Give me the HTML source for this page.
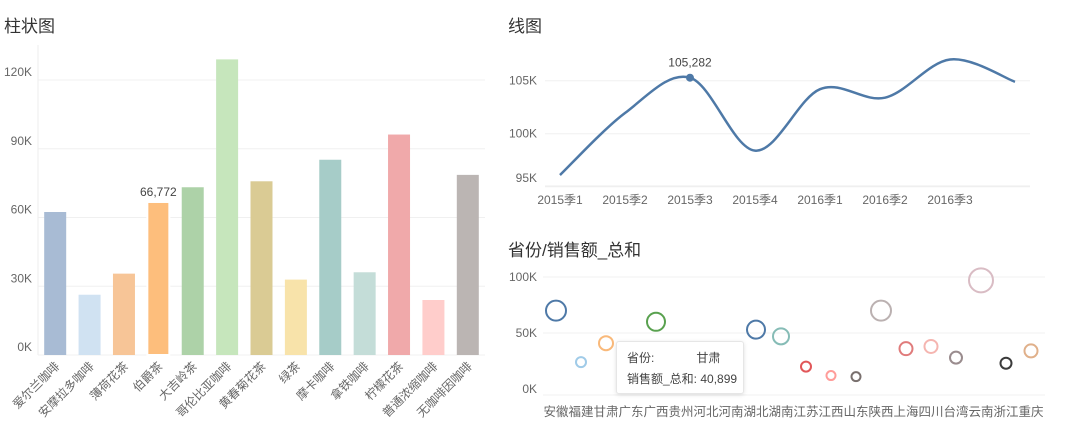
<!DOCTYPE html>
<html><head><meta charset="utf-8"><style>
body{margin:0;width:1072px;height:433px;background:#fff;overflow:hidden;font-family:"Liberation Sans","Noto Sans CJK SC",sans-serif}
.t{position:absolute;font-size:17px;color:#333}
svg{position:absolute;left:0;top:0}
svg text{font-family:"Liberation Sans","Noto Sans CJK SC",sans-serif;fill:#666;font-size:12px}
#tip{position:absolute;left:616px;top:341px;width:128px;height:53px;background:#fff;border:1px solid #e6e6e6;border-radius:3px;box-shadow:0 1px 4px rgba(0,0,0,.12);font-size:12px;color:#444;line-height:21px;padding:6px 0 0 10px;box-sizing:border-box}
</style></head><body>
<div class="t" style="left:4px;top:12px">柱状图</div>
<div class="t" style="left:508px;top:12px">线图</div>
<div class="t" style="left:508px;top:236px">省份/销售额_总和</div>
<svg id="s" width="1072" height="433"></svg>
<div id="tip"><div>省份:<span style="margin-left:42px">甘肃</span></div><div>销售额_总和: 40,899</div></div>
<script>
const barCats=["爱尔兰咖啡","安摩拉多咖啡","薄荷花茶","伯爵茶","大吉岭茶","哥伦比亚咖啡","黄春菊花茶","绿茶","摩卡咖啡","拿铁咖啡","柠檬花茶","普通浓缩咖啡","无咖啡因咖啡"];
const barVals=[62400,26300,35500,66772,73200,129000,75800,32900,85200,36100,96200,24000,78600];
const barColors=["#a8bbd4","#d0e2f2","#f7c597","#fdbe7c","#add2a8","#c6e6bc","#dacb94","#f8e3aa","#a6ccc8","#c4ddd8","#f0a9aa","#ffcdcb","#bbb5b3"];
const barTicks=[0,30000,60000,90000,120000];
const lineCats=["2015季1","2015季2","2015季3","2015季4","2016季1","2016季2","2016季3",""];
const lineVals=[96100,101950,105282,98400,104200,103400,107000,104900];
const lineTicks=[95000,100000,105000];
const provs=["安徽","福建","甘肃","广东","广西","贵州","河北","河南","湖北","湖南","江苏","江西","山东","陕西","上海","四川","台湾","云南","浙江","重庆"];
const provVals=[70000,24000,40899,null,60000,null,null,null,53000,47000,20000,12000,11000,70000,36000,38000,28000,97000,23000,34000];
const provSize=[10,5,7,0,9,0,0,0,9,8,5,4.5,4.5,10,6.5,6.5,6,12,5.5,6.5];
const provColors=["#4e79a7","#a0cbe8","#f9b97a","#f28e2b","#59a14f","#8cd17d","#b6992d","#f1ce63","#4e79a7","#86bcb6","#e15759","#ff9d9a","#79706e","#bab0ac","#d37295","#fabfd2","#9d7660","#d7b5a6","#3b3b3b","#d4a27a"];
provColors[13]="#bbb1b1";provColors[14]="#e07b7b";provColors[15]="#f5b5b0";provColors[16]="#9a8c8e";provColors[17]="#d9bcc4";provColors[19]="#e0b08a";
const svg=document.getElementById('s');const NS="http://www.w3.org/2000/svg";
function mk(t,a,p){const e=document.createElementNS(NS,t);for(const k in a)e.setAttribute(k,a[k]);(p||svg).appendChild(e);return e;}
function fmtK(v){return Math.round(v/1000)+"K";}
// bar chart
const bx0=38,bx1=485,by0=355,byTop=80;
const by=v=>by0-(v/120000)*(by0-byTop);
const bstep=(bx1-bx0)/13;const bxc=i=>bx0+bstep*(i+0.5);
barTicks.forEach(v=>{const l=mk('line',{x1:bx0,x2:bx1,y1:by(v),y2:by(v),stroke:'#f0f0f0'});


const t=mk('text',{x:32,y:by(v)-4,'text-anchor':'end'});t.textContent=fmtK(v);

});
mk('line',{x1:bx0,x2:bx0,y1:45,y2:by0,stroke:'#eee'});
barVals.forEach((v,i)=>{const r=mk('rect',{x:bxc(i)-11,y:by(v),width:22,height:by0-by(v),fill:barColors[i]});
if(i==3){r.setAttribute('stroke','#fff');r.setAttribute('stroke-width','2');}


const t=mk('text',{transform:`translate(${bxc(i)+5},${by0+12}) rotate(-45)`,'text-anchor':'end'});t.textContent=barCats[i];

});
const bl=mk('text',{x:bxc(3),y:by(barVals[3])-6,'text-anchor':'middle',style:'fill:#444'});bl.textContent=barVals[3].toLocaleString('en-US');


// line chart
const lx0=545,lx1=1030,ly=v=>133.7-(v-100000)/1000*10.6;
const lxc=i=>560+65*i;
lineTicks.forEach(v=>{const l=mk('line',{x1:lx0,x2:lx1,y1:ly(v),y2:ly(v),stroke:'#f0f0f0'});


const t=mk('text',{x:537,y:Math.min(ly(v)+4,182),'text-anchor':'end'});t.textContent=fmtK(v);

});
mk('line',{x1:lx0,x2:lx1,y1:186,y2:186,stroke:'#eee'});
lineCats.forEach((c,i)=>{const t=mk('text',{x:lxc(i),y:204,'text-anchor':'middle'});t.textContent=c;

});
const pts=lineVals.map((v,i)=>[lxc(i),ly(v)]);
let d=`M${pts[0][0]},${pts[0][1]}`;
for(let i=0;i<pts.length-1;i++){const p0=pts[Math.max(i-1,0)],p1=pts[i],p2=pts[i+1],p3=pts[Math.min(i+2,pts.length-1)];
d+=` C${p1[0]+(p2[0]-p0[0])/6},${p1[1]+(p2[1]-p0[1])/6} ${p2[0]-(p3[0]-p1[0])/6},${p2[1]-(p3[1]-p1[1])/6} ${p2[0]},${p2[1]}`;}
const lp=mk('path',{d:d,fill:'none',stroke:'#4e79a7','stroke-width':2.5});


const dot=mk('circle',{cx:pts[2][0],cy:pts[2][1],r:4,fill:'#4e79a7'});


const ll=mk('text',{x:pts[2][0],y:pts[2][1]-11,'text-anchor':'middle',style:'fill:#444'});ll.textContent=lineVals[2].toLocaleString('en-US');


// scatter
const sy=v=>389-v/100000*112;const sx=i=>556+25*i;
[0,50000,100000].forEach(v=>{const l=mk('line',{x1:543,x2:1045,y1:sy(v)+(v?0:6),y2:sy(v)+(v?0:6),stroke:'#f0f0f0'});


const t=mk('text',{x:537,y:sy(v)+4,'text-anchor':'end'});t.textContent=fmtK(v);

});
provs.forEach((p,i)=>{const t=mk('text',{x:sx(i),y:416,'text-anchor':'middle',style:'font-size:12.5px'});t.textContent=p;


if(provVals[i]==null)return;
const c=mk('circle',{cx:sx(i),cy:sy(provVals[i]),r:provSize[i],fill:'none',stroke:provColors[i],'stroke-width':2});

});
</script>
</body></html>
